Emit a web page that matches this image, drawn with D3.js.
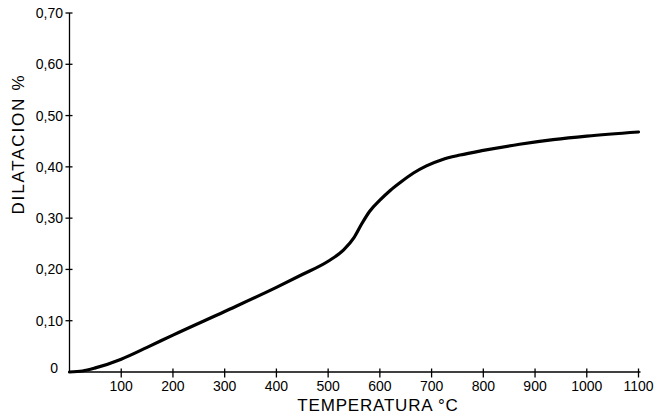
<!DOCTYPE html>
<html>
<head>
<meta charset="utf-8">
<script src="https://cdn.jsdelivr.net/npm/d3@7"></script>
<style>
  html, body { margin: 0; padding: 0; background: #fff; }
  svg { display: block; }
  text { font-family: "Liberation Sans", Arial, sans-serif; fill: #000; }
</style>
</head>
<body>
<svg id="chart" width="660" height="420"></svg>
<script>
// Data
const temperature = [0, 25, 50, 100, 150, 200, 300, 400, 450, 500, 530, 550, 565, 580, 600, 620, 640, 665, 690, 720, 755, 800, 870, 935, 1000, 1100];
const dilatation  = [0, 0.002, 0.008, 0.025, 0.048, 0.072, 0.118, 0.165, 0.190, 0.216, 0.238, 0.262, 0.289, 0.313, 0.335, 0.354, 0.370, 0.388, 0.402, 0.414, 0.423, 0.432, 0.444, 0.453, 0.460, 0.468];
const xTicks = [100, 200, 300, 400, 500, 600, 700, 800, 900, 1000, 1100];
const yTicks = [0, 0.1, 0.2, 0.3, 0.4, 0.5, 0.6, 0.7];
const yTickLabels = ["0", "0,10", "0,20", "0,30", "0,40", "0,50", "0,60", "0,70"];
const xTitle = "TEMPERATURA °C";
const yTitle = "DILATACION %";

const svg = d3.select("#chart");
svg.append("rect").attr("width", 660).attr("height", 420).attr("fill", "#fff");

const x = d3.scaleLinear().domain([0, 1100]).range([69.5, 638.5]);
const y = d3.scaleLinear().domain([0, 0.7]).range([372, 13]);

// X axis
const gx = svg.append("g");
gx.append("line").attr("x1", x(0)).attr("x2", x(1100) + 2).attr("y1", y(0)).attr("y2", y(0))
  .attr("stroke", "#000").attr("stroke-width", 1.3);
gx.selectAll("line.tick").data(xTicks).join("line").attr("class", "tick")
  .attr("x1", d => x(d)).attr("x2", d => x(d))
  .attr("y1", y(0) - 3.5).attr("y2", y(0) + 5.5)
  .attr("stroke", "#000").attr("stroke-width", 1.3);
gx.selectAll("text").data(xTicks).join("text")
  .attr("x", d => x(d)).attr("y", 391)
  .attr("text-anchor", "middle").attr("font-size", 14)
  .text(d => d);

// Y axis
const gy = svg.append("g");
gy.append("line").attr("x1", x(0)).attr("x2", x(0)).attr("y1", y(0.7)).attr("y2", y(0))
  .attr("stroke", "#000").attr("stroke-width", 1.3);
gy.selectAll("line.tick").data(yTicks.slice(1)).join("line").attr("class", "tick")
  .attr("x1", x(0) - 4).attr("x2", x(0) + 3)
  .attr("y1", d => y(d)).attr("y2", d => y(d))
  .attr("stroke", "#000").attr("stroke-width", 1.3);
gy.selectAll("text").data(yTicks).join("text")
  .attr("x", (d, i) => i === 0 ? 58 : 63)
  .attr("y", (d, i) => y(d) + (i === 0 ? 1 : 5))
  .attr("text-anchor", "end").attr("font-size", 14)
  .text((d, i) => yTickLabels[i]);

// Titles
svg.append("text").attr("x", 378).attr("y", 411).attr("text-anchor", "middle")
  .attr("font-size", 17).attr("letter-spacing", 0.8).text(xTitle);
svg.append("text").attr("transform", "translate(24,144) rotate(-90)")
  .attr("text-anchor", "middle").attr("font-size", 17).attr("letter-spacing", 1.8).text(yTitle);

// Curve
const pts = temperature.map((t, i) => [t, dilatation[i]]);
svg.append("path").datum(pts)
  .attr("fill", "none").attr("stroke", "#000").attr("stroke-width", 3.2)
  .attr("stroke-linecap", "round").attr("stroke-linejoin", "round")
  .attr("d", d3.line().x(d => x(d[0])).y(d => y(d[1])).curve(d3.curveMonotoneX));
</script>
</body>
</html>
